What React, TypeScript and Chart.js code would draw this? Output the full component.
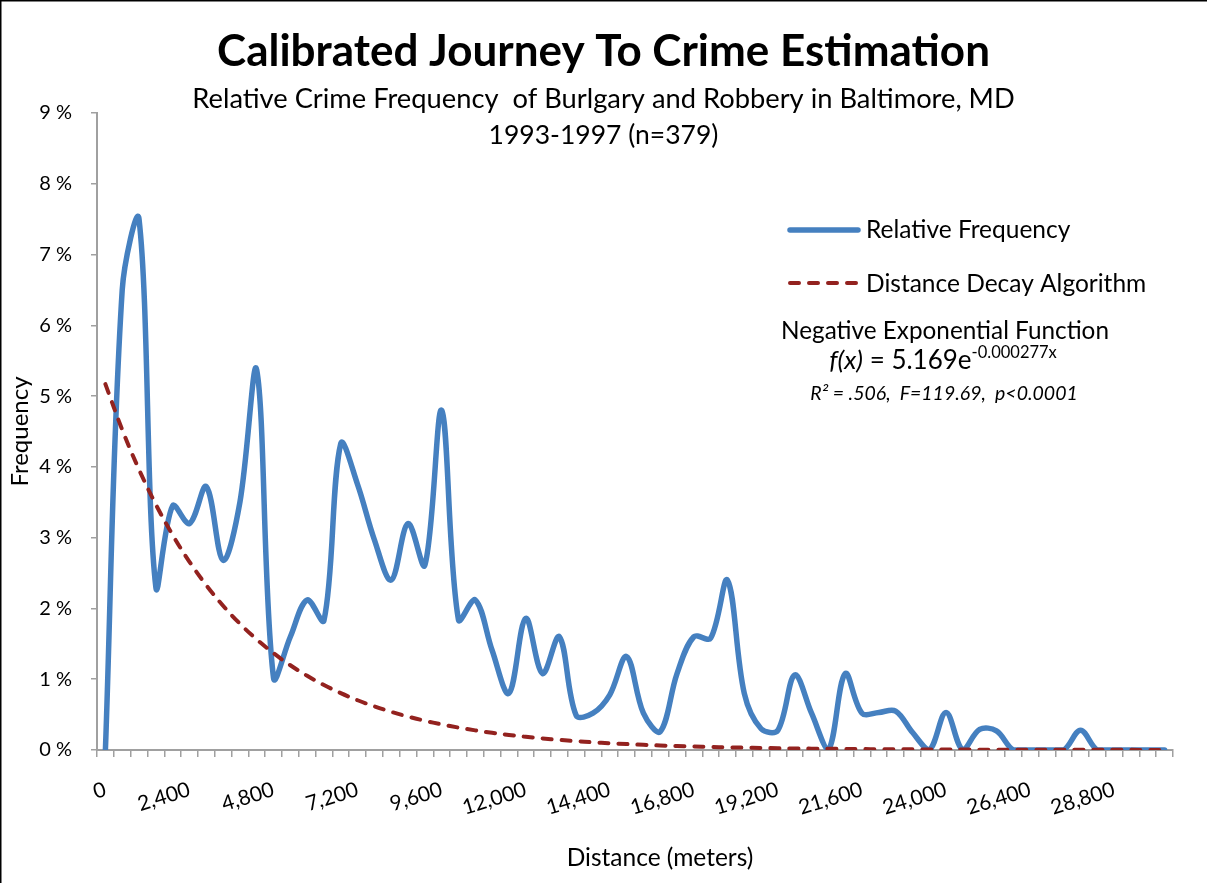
import React, { useEffect, useRef } from "react";
import { Chart, registerables } from "chart.js";

Chart.register(...registerables);

// ---------- data ----------
const distances = [
  0, 480, 960, 1440, 1920, 2400, 2880, 3360, 3840, 4320, 4800, 5280, 5760, 6240, 6720, 7200,
  7680, 8160, 8640, 9120, 9600, 10080, 10560, 11040, 11520, 12000, 12480, 12960, 13440, 13920, 14400, 14880,
  15360, 15840, 16320, 16800, 17280, 17760, 18240, 18720, 19200, 19680, 20160, 20640, 21120, 21600, 22080, 22560,
  23040, 23520, 24000, 24480, 24960, 25440, 25920, 26400, 26880, 27360, 27840, 28320, 28800, 29280, 29760, 30240,
];

const relativeFrequency = [
  0, 6.5, 7.5, 2.3, 3.45, 3.2, 3.72, 2.68, 3.5, 5.37, 1.02, 1.6, 2.12, 1.83, 4.33, 3.75,
  2.97, 2.4, 3.2, 2.61, 4.8, 1.84, 2.12, 1.41, 0.8, 1.86, 1.08, 1.6, 0.49, 0.52, 0.78, 1.32,
  0.52, 0.26, 1.08, 1.6, 1.58, 2.4, 0.8, 0.3, 0.28, 1.06, 0.52, 0, 1.08, 0.52, 0.53, 0.55,
  0.25, 0, 0.53, 0, 0.29, 0.27, 0, 0, 0, 0, 0.28, 0, 0, 0, 0, 0,
];

const distanceDecay = [
  5.169, 4.525, 3.962, 3.469, 3.037, 2.659, 2.328, 2.038, 1.784, 1.562, 1.368, 1.197, 1.048, 0.918, 0.803, 0.703,
  0.616, 0.539, 0.472, 0.413, 0.362, 0.317, 0.277, 0.243, 0.213, 0.186, 0.163, 0.143, 0.125, 0.109, 0.096, 0.084,
  0.073, 0.064, 0.056, 0.049, 0.043, 0.038, 0.033, 0.029, 0.025, 0.022, 0.019, 0.017, 0.015, 0.013, 0.011, 0.01,
  0.009, 0.008, 0.007, 0.006, 0.005, 0.004, 0.004, 0.003, 0.003, 0.003, 0.002, 0.002, 0.002, 0.002, 0.001, 0.001,
];

const yTickValues = [0, 1, 2, 3, 4, 5, 6, 7, 8, 9];
const labelEvery = 5;

const titleText = "Calibrated Journey To Crime Estimation";
const subtitleLines = ["Relative Crime Frequency  of Burlgary and Robbery in Baltimore, MD", "1993-1997 (n=379)"];
const seriesNames = ["Relative Frequency", "Distance Decay Algorithm"];
const xAxisTitle = "Distance (meters)";
const yAxisTitle = "Frequency";
const noteHeading = "Negative Exponential Function";
const noteFormulaItalic = "f(x)";
const noteFormulaMain = " = 5.169e";
const noteFormulaExp = "-0.000277x";
const noteStats = "R\u00B2 = .506,  F=119.69,  p<0.0001";

// ---------- styles ----------
const W = 1207;
const H = 883;
const FONT = "Lato, 'Open Sans', sans-serif";
const BLUE = "#4580c0";
const RED = "#93221f";
const AXIS = "#a0a0a0";

const overlayPlugin = {
  id: "overlayText",
  beforeDraw(chart: any) {
    const ctx = chart.ctx;
    ctx.save();
    ctx.fillStyle = "#fff";
    ctx.fillRect(0, 0, W, H);
    ctx.restore();
  },
  afterDraw(chart: any) {
    const ctx: CanvasRenderingContext2D = chart.ctx;
    ctx.save();
    // frame
    ctx.strokeStyle = "#000";
    ctx.lineWidth = 1.5;
    ctx.beginPath();
    ctx.moveTo(0.75, H);
    ctx.lineTo(0.75, 0.75);
    ctx.lineTo(W, 0.75);
    ctx.stroke();

    ctx.fillStyle = "#000";
    ctx.textBaseline = "alphabetic";
    // title
    ctx.textAlign = "center";
    ctx.font = `bold 44px ${FONT}`;
    ctx.fillText(titleText, W / 2, 66);
    ctx.font = `27.3px ${FONT}`;
    ctx.fillText(subtitleLines[0], W / 2, 108);
    ctx.font = `26.5px ${FONT}`;
    ctx.fillText(subtitleLines[1], W / 2, 144);

    // x axis title
    ctx.font = `24.5px ${FONT}`;
    ctx.fillText(xAxisTitle, 660, 866);

    // legend
    ctx.lineCap = "round";
    ctx.strokeStyle = BLUE;
    ctx.lineWidth = 5.5;
    ctx.setLineDash([]);
    ctx.beginPath();
    ctx.moveTo(790, 230);
    ctx.lineTo(858, 230);
    ctx.stroke();
    ctx.strokeStyle = RED;
    ctx.lineWidth = 4;
    ctx.setLineDash([9, 10]);
    ctx.beginPath();
    ctx.moveTo(790, 283);
    ctx.lineTo(858, 283);
    ctx.stroke();
    ctx.setLineDash([]);

    ctx.textAlign = "left";
    ctx.font = `24.5px ${FONT}`;
    ctx.fillText(seriesNames[0], 866, 238);
    ctx.fillText(seriesNames[1], 866, 292);

    // annotation
    ctx.textAlign = "center";
    ctx.font = `24.3px ${FONT}`;
    ctx.fillText(noteHeading, 945, 339);

    const fItal = `italic 26px ${FONT}`;
    const fMain = `26px ${FONT}`;
    const fExp = `16.5px ${FONT}`;
    ctx.font = fItal;
    const w1 = ctx.measureText(noteFormulaItalic).width;
    ctx.font = fMain;
    const w2 = ctx.measureText(noteFormulaMain).width;
    ctx.font = fExp;
    const w3 = ctx.measureText(noteFormulaExp).width;
    let x = 943 - (w1 + w2 + w3) / 2;
    ctx.textAlign = "left";
    ctx.font = fItal;
    ctx.fillText(noteFormulaItalic, x, 369);
    x += w1;
    ctx.font = fMain;
    ctx.fillText(noteFormulaMain, x, 369);
    x += w2;
    ctx.font = fExp;
    ctx.fillText(noteFormulaExp, x, 358);

    ctx.textAlign = "center";
    ctx.font = `italic 19.5px ${FONT}`;
    ctx.fillText(noteStats, 944, 400);
    ctx.restore();
  },
};

export default function App() {
  const ref = useRef<HTMLCanvasElement | null>(null);

  useEffect(() => {
    document.body.style.margin = "0";
    const canvas = ref.current;
    if (!canvas) return;
    const chart = new Chart(canvas, {
      type: "line",
      data: {
        labels: distances.map((d) => d.toLocaleString("en-US")),
        datasets: [
          {
            label: seriesNames[0],
            data: relativeFrequency,
            borderColor: BLUE,
            backgroundColor: BLUE,
            borderWidth: 5.5,
            pointRadius: 0,
            pointHoverRadius: 0,
            tension: 0.35,
            borderCapStyle: "round",
            borderJoinStyle: "round",
            fill: false,
            order: 1,
          },
          {
            label: seriesNames[1],
            data: distanceDecay,
            borderColor: RED,
            backgroundColor: RED,
            borderWidth: 4,
            borderDash: [9, 10],
            borderCapStyle: "round",
            pointRadius: 0,
            pointHoverRadius: 0,
            tension: 0.35,
            fill: false,
            order: 0,
          },
        ],
      },
      options: {
        responsive: false,
        animation: false,
        events: [],
        layout: { padding: { top: 113, right: 34, left: 0, bottom: 0 } },
        plugins: {
          legend: { display: false },
          title: { display: false },
          tooltip: { enabled: false },
        },
        scales: {
          x: {
            type: "category",
            offset: true,
            afterFit: (s: any) => {
              s.height = 133;
            },
            grid: {
              offset: true,
              drawOnChartArea: false,
              drawTicks: true,
              tickLength: 7,
              color: AXIS,
              lineWidth: 1.5,
            },
            border: { display: true, color: AXIS, width: 2 },
            ticks: {
              autoSkip: false,
              minRotation: 17,
              maxRotation: 17,
              padding: 20,
              color: "#000",
              font: { family: FONT, size: 21 },
              callback: (_v: any, i: number) =>
                i % labelEvery === 0 ? distances[i].toLocaleString("en-US") : "",
            },
            title: { display: false },
          },
          y: {
            min: 0,
            max: 9,
            afterFit: (s: any) => {
              s.width = 97;
            },
            afterBuildTicks: (s: any) => {
              s.ticks = yTickValues.map((v) => ({ value: v }));
            },
            grid: {
              drawOnChartArea: false,
              drawTicks: true,
              tickLength: 6,
              color: AXIS,
              lineWidth: 1.5,
            },
            border: { display: true, color: AXIS, width: 2 },
            ticks: {
              padding: 19,
              color: "#000",
              font: { family: FONT, size: 20 },
              callback: (v: any) => `${v} %`,
            },
            title: {
              display: true,
              text: yAxisTitle,
              color: "#000",
              font: { family: FONT, size: 24 },
              padding: { top: 6, bottom: 0 },
            },
          },
        },
      },
      plugins: [overlayPlugin],
    });
    return () => chart.destroy();
  }, []);

  return (
    <div style={{ position: "relative", width: W, height: H, margin: 0 }}>
      <canvas ref={ref} width={W} height={H} style={{ display: "block", width: W, height: H }} />
    </div>
  );
}
